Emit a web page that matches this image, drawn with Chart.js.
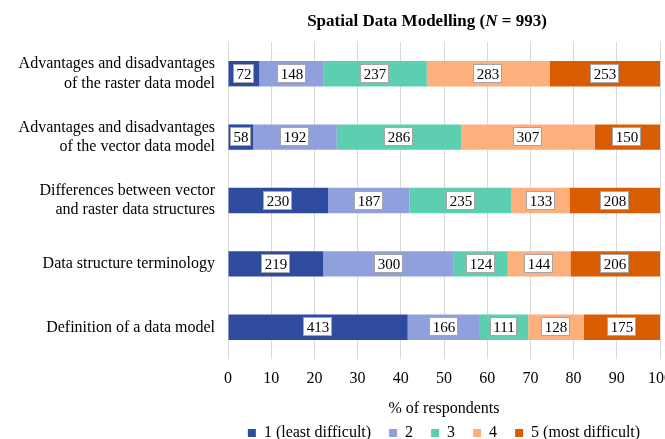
<!DOCTYPE html>
<html>
<head>
<meta charset="utf-8">
<script src="https://cdn.jsdelivr.net/npm/chart.js@4"></script>
<style>
	html, body { margin: 0; padding: 0; background: #fff; overflow: hidden; }
	#wrap { width: 665px; height: 439px; }
</style>
</head>
<body>
<div id="wrap"><canvas id="spatialChart"></canvas></div>
<script>
'use strict';

const N = 993;
const categories = [
	['Advantages and disadvantages', 'of the raster data model'],
	['Advantages and disadvantages', 'of the vector data model'],
	['Differences between vector', 'and raster data structures'],
	'Data structure terminology',
	'Definition of a data model',
];
const seriesLabels = ['1 (least difficult)', '2', '3', '4', '5 (most difficult)'];
const level1 = [72, 58, 230, 219, 413];
const level2 = [148, 192, 187, 300, 166];
const level3 = [237, 286, 235, 124, 111];
const level4 = [283, 307, 133, 144, 128];
const level5 = [253, 150, 208, 206, 175];
const xTicks = [0, 10, 20, 30, 40, 50, 60, 70, 80, 90, 100];

const colors = ['#2E4BA0', '#8FA0DD', '#5CCFB1', '#FDB07B', '#D95D00'];
const serif = '"Liberation Serif", "Times New Roman", serif';

const counts = [level1, level2, level3, level4, level5];

// title with an italic N, drawn by hand since the title plugin takes one font
const mixedTitle = {
	id: 'mixedTitle',
	afterDraw(chart) {
		const ctx = chart.ctx;
		const parts = [
			['Spatial Data Modelling (', 'bold 17px '],
			['N', 'italic bold 17px '],
			[' = 993)', 'bold 17px '],
		];
		ctx.save();
		ctx.fillStyle = '#000';
		ctx.textBaseline = 'middle';
		let total = 0;
		parts.forEach((p) => {
			ctx.font = p[1] + serif;
			total += ctx.measureText(p[0]).width;
		});
		let x = 427 - total / 2;
		parts.forEach((p) => {
			ctx.font = p[1] + serif;
			ctx.fillText(p[0], x, 22);
			x += ctx.measureText(p[0]).width;
		});
		ctx.restore();
	},
};

// white boxes with the raw count in the middle of each segment
const countLabels = {
	id: 'countLabels',
	afterDatasetsDraw(chart) {
		const ctx = chart.ctx;
		ctx.save();
		ctx.font = '15px ' + serif;
		ctx.textAlign = 'center';
		ctx.textBaseline = 'middle';
		chart.data.datasets.forEach((ds, i) => {
			const meta = chart.getDatasetMeta(i);
			meta.data.forEach((bar, j) => {
				const txt = String(counts[i][j]);
				const w = Math.round(ctx.measureText(txt).width + 6);
				const h = 19;
				const cx = Math.round((bar.x + bar.base) / 2);
				const cy = Math.round(bar.y);
				const left = cx - Math.round(w / 2);
				const top = cy - Math.round(h / 2);
				ctx.fillStyle = '#fff';
				ctx.fillRect(left, top, w, h);
				ctx.strokeStyle = '#a6a6a6';
				ctx.lineWidth = 1;
				ctx.strokeRect(left + 0.5, top + 0.5, w - 1, h - 1);
				ctx.fillStyle = '#000';
				ctx.fillText(txt, cx, cy + 1);
			});
		});
		ctx.restore();
	},
};

const ctx = document.getElementById('spatialChart');

new Chart(ctx, {
	type: 'bar',
	data: {
		labels: categories,
		datasets: counts.map((vals, i) => ({
			label: seriesLabels[i],
			data: vals.map((v) => (v / N) * 100),
			backgroundColor: colors[i],
			borderWidth: 0,
			barPercentage: 0.4,
			categoryPercentage: 1,
		})),
	},
	options: {
		indexAxis: 'y',
		responsive: true,
		maintainAspectRatio: false,
		animation: false,
		layout: {
			padding: { left: 0, right: 5, top: 42, bottom: -12 },
		},
		scales: {
			x: {
				stacked: true,
				min: 0,
				max: 100,
				afterBuildTicks(axis) {
					axis.ticks = xTicks.map((v) => ({ value: v }));
				},
				afterFit(axis) {
					axis.paddingRight = 0;
					axis.height = 48;
				},
				grid: {
					color: '#d9d9d9',
					drawTicks: false,
				},
				border: { display: false },
				ticks: {
					color: '#000',
					padding: 10,
					maxRotation: 0,
					font: { family: serif, size: 16 },
				},
				title: {
					display: true,
					text: '% of respondents',
					color: '#000',
					padding: { top: 8, bottom: -11 },
					font: { family: serif, size: 16 },
				},
			},
			y: {
				stacked: true,
				afterFit(axis) {
					axis.width = 228;
					axis.paddingTop = 0;
					axis.paddingBottom = 0;
				},
				grid: { display: false, drawTicks: false },
				border: { display: false },
				ticks: {
					color: '#000',
					padding: 13,
					font: { family: serif, size: 16, lineHeight: 1.2 },
				},
			},
		},
		plugins: {
			title: { display: false },
			legend: {
				position: 'bottom',
				fullSize: false,
				labels: {
					color: '#000',
					boxWidth: 8,
					boxHeight: 8,
					padding: 18,
					font: { family: serif, size: 16 },
				},
			},
			tooltip: { enabled: false },
		},
	},
	plugins: [countLabels, mixedTitle],
});
</script>
</body>
</html>
